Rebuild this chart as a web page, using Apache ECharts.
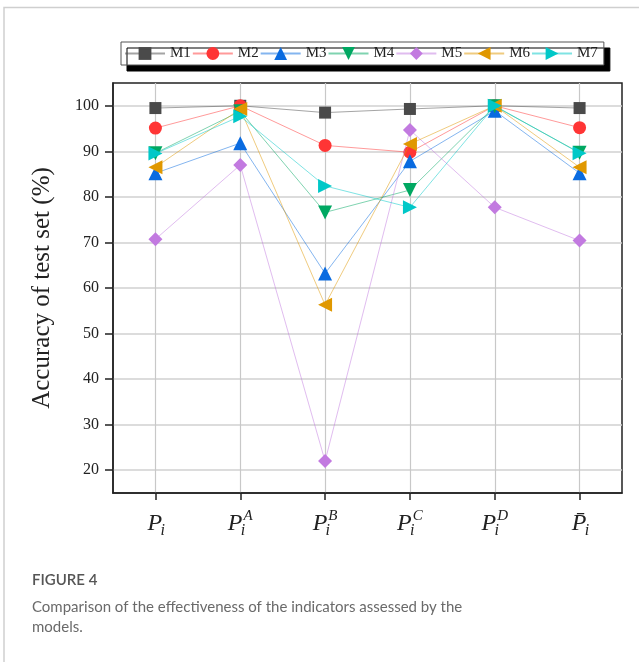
<!DOCTYPE html>
<html>
<head>
<meta charset="utf-8">
<script src="https://cdn.jsdelivr.net/npm/echarts@6/dist/echarts.min.js"></script>
<style>html,body{margin:0;padding:0;background:#fff}#c{width:639px;height:662px}</style>
</head>
<body>
<div id="c"></div>
<script>
const categories = ['P_i', 'P_i^A', 'P_i^B', 'P_i^C', 'P_i^D', 'Pbar_i'];
const yTicks = [20, 30, 40, 50, 60, 70, 80, 90, 100];
const M1 = [99.5, 100.0, 98.5, 99.3, 100.0, 99.5];
const M2 = [95.1, 100.0, 91.3, 89.8, 100.0, 95.2];
const M3 = [85.2, 91.8, 63.2, 87.8, 98.9, 85.2];
const M4 = [89.6, 98.8, 76.6, 81.5, 99.9, 89.7];
const M5 = [70.7, 87.0, 22.0, 94.7, 77.7, 70.4];
const M6 = [86.5, 99.3, 56.3, 91.6, 100.0, 86.5];
const M7 = [89.5, 97.7, 82.4, 77.7, 100.0, 89.6];
const seriesNames = ['M1', 'M2', 'M3', 'M4', 'M5', 'M6', 'M7'];
const seriesData = [M1, M2, M3, M4, M5, M6, M7];

const styles = [
  {color: '#4a4a4a', symbol: 'rect', size: 12, rot: 0},
  {color: '#ff3535', symbol: 'circle', size: 13, rot: 0},
  {color: '#0a6be0', symbol: 'triangle', size: 14, rot: 0},
  {color: '#00a862', symbol: 'triangle', size: 14, rot: 180},
  {color: '#c27ae0', symbol: 'diamond', size: 14, rot: 0},
  {color: '#e09800', symbol: 'triangle', size: 14, rot: 90},
  {color: '#00c8c8', symbol: 'triangle', size: 14, rot: -90}
];

function fmtCat(v) {
  const m = v.match(/^(Pbar|P)_i(?:\^(\w))?$/);
  const p = m[1] === 'Pbar' ? 'P\u0304' : 'P';
  let s = '{p|' + p + '}{s|i}';
  if (m[2]) s += '{t|' + m[2] + '}';
  return s;
}

const chart = echarts.init(document.getElementById('c'), null, {renderer: 'canvas'});
const option = {
  animation: false,
  backgroundColor: '#fff',
  grid: {
    left: 113, right: 17, top: 83, bottom: 169,
    show: true, borderColor: '#222', borderWidth: 1.5, backgroundColor: 'transparent'
  },
  legend: {
    left: 121, top: 42,
    padding: [4, 6, 4, 3],
    itemWidth: 40, itemHeight: 16, itemGap: 1,
    backgroundColor: '#fff',
    borderColor: '#555', borderWidth: 1,
    shadowColor: '#000', shadowBlur: 0, shadowOffsetX: 6, shadowOffsetY: 6,
    textStyle: {fontFamily: 'Liberation Serif', fontSize: 15, color: '#222'},
    data: seriesNames
  },
  xAxis: {
    type: 'category',
    data: categories,
    boundaryGap: true,
    axisLine: {show: true, lineStyle: {color: '#222', width: 1.5}},
    axisTick: {show: true, alignWithLabel: true, interval: 0, length: 7, lineStyle: {color: '#222', width: 1.5}},
    splitLine: {show: true, alignWithLabel: true, interval: 0, lineStyle: {color: '#c8c8c8', width: 1.2}},
    axisLabel: {
      interval: 0,
      margin: 16,
      formatter: fmtCat,
      rich: {
        p: {fontFamily: 'Liberation Serif', fontStyle: 'italic', fontSize: 24, lineHeight: 30, color: '#222'},
        s: {fontFamily: 'Liberation Serif', fontStyle: 'italic', fontSize: 16, lineHeight: 14, verticalAlign: 'bottom', width: 1, color: '#222'},
        t: {fontFamily: 'Liberation Serif', fontStyle: 'italic', fontSize: 15, lineHeight: 14, verticalAlign: 'top', color: '#222'}
      }
    }
  },
  yAxis: {
    type: 'value',
    min: 15, max: 105,
    name: 'Accuracy of test set (%)',
    nameLocation: 'middle',
    nameRotate: 90,
    nameGap: 58,
    nameTextStyle: {fontFamily: 'Liberation Serif', fontSize: 25, color: '#222'},
    axisLine: {show: true, lineStyle: {color: '#222', width: 1.5}},
    axisTick: {show: true, length: 8, customValues: yTicks, lineStyle: {color: '#222', width: 1.5}},
    axisLabel: {customValues: yTicks, margin: 14, fontFamily: 'Liberation Serif', fontSize: 16, color: '#222'},
    splitLine: {show: true, lineStyle: {color: '#d0d0d0', width: 1.6}}
  },
  series: seriesNames.map((n, i) => ({
    name: n,
    type: 'line',
    data: seriesData[i],
    symbol: styles[i].symbol,
    symbolSize: styles[i].size,
    symbolRotate: styles[i].rot,
    itemStyle: {color: styles[i].color, opacity: 1},
    lineStyle: {color: styles[i].color, width: 1, opacity: 0.5},
    z: 2 + i
  })),
  graphic: [
    {type: 'rect', shape: {x: 4, y: 7.5, width: 700, height: 700}, style: {fill: 'none', stroke: '#cfcfcf', lineWidth: 1.5}, z: -10, silent: true},
    {type: 'text', left: 32, top: 573, style: {text: 'FIGURE 4', font: '600 15px Lato', fill: '#555'}},
    {type: 'text', left: 32, top: 597, style: {text: 'Comparison of the effectiveness of the indicators assessed by the\nmodels.', font: '15px Lato', lineHeight: 20, fill: '#6a6a6a'}}
  ]
};
chart.setOption(option);
</script>
</body>
</html>
